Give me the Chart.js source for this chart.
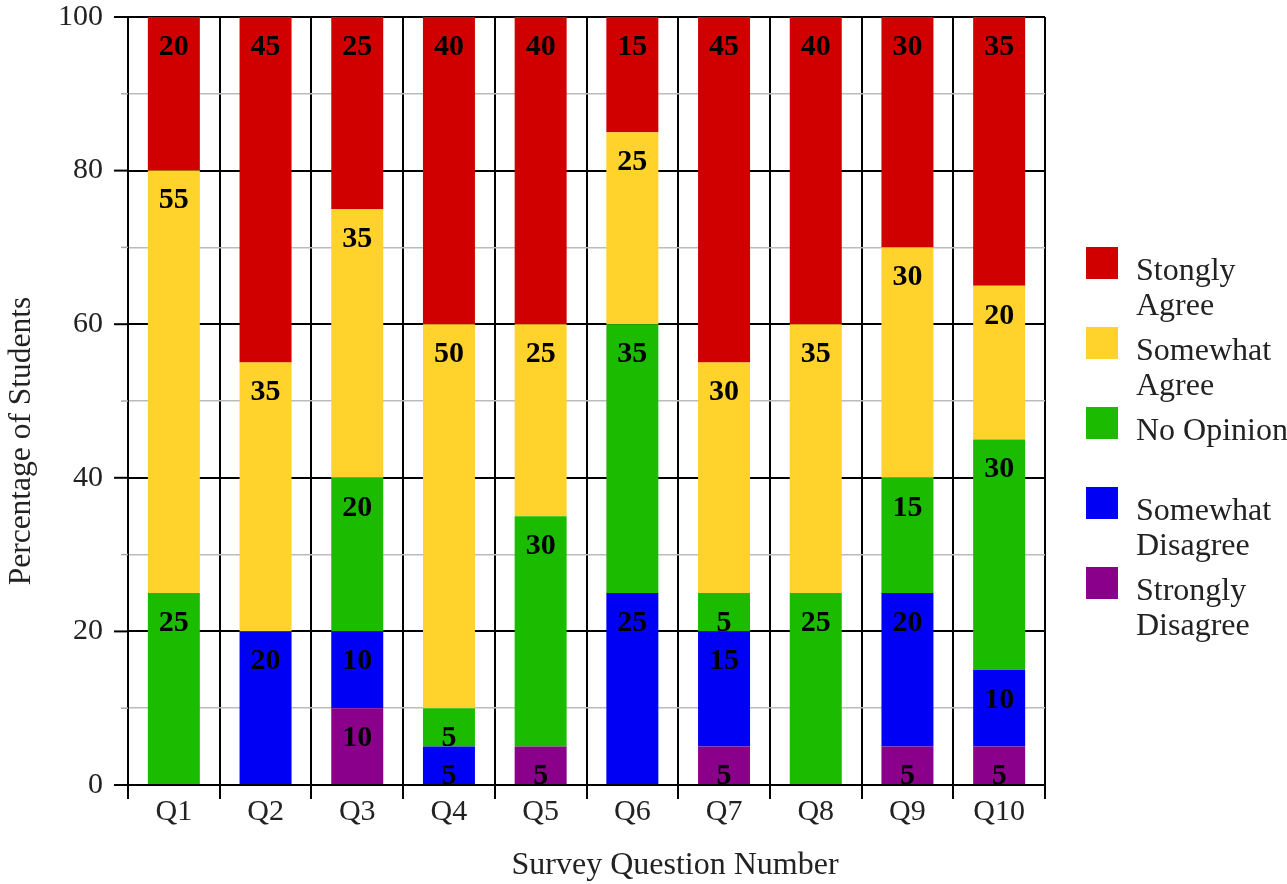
<!DOCTYPE html>
<html>
<head>
<meta charset="utf-8">
<script src="https://cdn.jsdelivr.net/npm/chart.js@4/dist/chart.umd.min.js"></script>
<style>
  html, body { margin: 0; padding: 0; background: #fff; }
  #wrap { width: 1287px; height: 884px; position: relative; }
</style>
</head>
<body>
<div id="wrap"><canvas id="c" width="1287" height="884"></canvas></div>
<script>
// Survey responses, percent of students per question
const questions = ['Q1', 'Q2', 'Q3', 'Q4', 'Q5', 'Q6', 'Q7', 'Q8', 'Q9', 'Q10'];
const stronglyDisagree = [0, 0, 10, 0, 5, 0, 5, 0, 5, 5];
const somewhatDisagree = [0, 20, 10, 5, 0, 25, 15, 0, 20, 10];
const noOpinion        = [25, 0, 20, 5, 30, 35, 5, 25, 15, 30];
const somewhatAgree    = [55, 35, 35, 50, 25, 25, 30, 35, 30, 20];
const stonglyAgree     = [20, 45, 25, 40, 40, 15, 45, 40, 30, 35];
const yTicks = [0, 20, 40, 60, 80, 100];

const seriesNames = ['Strongly Disagree', 'Somewhat Disagree', 'No Opinion', 'Somewhat Agree', 'Stongly Agree'];
const seriesColors = ['#8a008a', '#0000f5', '#1bbb00', '#ffd22c', '#d00000'];
const seriesValues = [stronglyDisagree, somewhatDisagree, noOpinion, somewhatAgree, stonglyAgree];

const xTitle = 'Survey Question Number';
const yTitle = 'Percentage of Students';

const FONT = '"Liberation Serif", "Times New Roman", serif';

// value labels near the top of every segment
const segmentLabels = {
  id: 'segmentLabels',
  afterDatasetsDraw(chart) {
    const ctx = chart.ctx;
    ctx.save();
    ctx.font = 'bold 30px ' + FONT;
    ctx.fillStyle = '#000';
    ctx.textAlign = 'center';
    ctx.textBaseline = 'middle';
    chart.data.datasets.forEach((ds, di) => {
      const meta = chart.getDatasetMeta(di);
      meta.data.forEach((bar, i) => {
        const v = ds.data[i];
        if (!v) return;
        ctx.fillText(String(v), bar.x, bar.y + 30);
      });
    });
    ctx.restore();
  }
};

// y tick marks: long for labelled values, short for the in-between ones
const yTickMarks = {
  id: 'yTickMarks',
  afterDraw(chart) {
    const ctx = chart.ctx;
    const y = chart.scales.y;
    const left = chart.chartArea.left;
    ctx.save();
    y.ticks.forEach(t => {
      const py = y.getPixelForValue(t.value);
      const major = t.value % 20 === 0;
      ctx.strokeStyle = major ? '#000' : '#aaa';
      ctx.lineWidth = major ? 2 : 1.5;
      ctx.beginPath();
      ctx.moveTo(left - (major ? 14 : 7), py);
      ctx.lineTo(left, py);
      ctx.stroke();
    });
    ctx.restore();
  }
};

// axis titles, placed against the page rather than the plot box
const axisTitles = {
  id: 'axisTitles',
  afterDraw(chart) {
    const ctx = chart.ctx;
    ctx.save();
    ctx.fillStyle = '#222';
    ctx.textAlign = 'center';
    ctx.textBaseline = 'middle';
    ctx.font = '32px ' + FONT;
    ctx.fillText(xTitle, 675, 866);
    ctx.translate(22, 441);
    ctx.rotate(-Math.PI / 2);
    ctx.font = '31.5px ' + FONT;
    ctx.fillText(yTitle, 0, 0);
    ctx.restore();
  }
};

// legend at the right, top series first, names wrapped onto two lines
const sideLegend = {
  id: 'sideLegend',
  afterDraw(chart) {
    const ctx = chart.ctx;
    const area = chart.chartArea;
    const boxX = area.right + 41;
    const textX = boxX + 50;
    const top0 = 247;
    const step = 80;
    const lineH = 35;
    ctx.save();
    ctx.font = '32px ' + FONT;
    ctx.textBaseline = 'middle';
    ctx.textAlign = 'left';
    const order = chart.data.datasets.map((d, i) => i).reverse();
    order.forEach((di, k) => {
      const ds = chart.data.datasets[di];
      const by = top0 + k * step;
      ctx.fillStyle = ds.backgroundColor;
      ctx.fillRect(boxX, by, 32, 32);
      let lines = [ds.label];
      if (ctx.measureText(ds.label).width > 160) lines = ds.label.split(' ');
      ctx.fillStyle = '#222';
      lines.forEach((ln, j) => ctx.fillText(ln, textX, by + 25 + j * lineH));
    });
    ctx.restore();
  }
};

new Chart(document.getElementById('c'), {
  type: 'bar',
  data: {
    labels: questions,
    datasets: seriesValues.map((vals, i) => ({
      label: seriesNames[i],
      data: vals,
      backgroundColor: seriesColors[i],
      borderWidth: 0,
      categoryPercentage: 1,
      barPercentage: 0.567
    }))
  },
  options: {
    responsive: false,
    animation: false,
    layout: { padding: { left: 0, right: 242, top: 17, bottom: 0 } },
    plugins: {
      legend: { display: false },
      tooltip: { enabled: false }
    },
    scales: {
      x: {
        stacked: true,
        offset: true,
        grid: {
          offset: true,
          color: '#000',
          lineWidth: 2,
          tickLength: 14,
          drawTicks: true
        },
        border: { color: '#000', width: 2 },
        ticks: {
          color: '#222',
          font: { family: FONT, size: 30 },
          padding: -5
        },
        afterFit(s) { s.height = 99; s.paddingLeft = 0; s.paddingRight = 0; }
      },
      y: {
        stacked: true,
        min: 0,
        max: 100,
        ticks: {
          stepSize: 10,
          color: '#222',
          font: { family: FONT, size: 30 },
          padding: 25,
          callback: (v) => (yTicks.includes(v) ? String(v) : '')
        },
        grid: {
          drawTicks: false,
          color: (c) => (c.tick && c.tick.value % 20 === 0 ? '#000' : '#bbb'),
          lineWidth: (c) => (c.tick && c.tick.value % 20 === 0 ? 2 : 1.5)
        },
        border: { color: '#000', width: 2 },
        afterFit(s) { s.width = 128; s.paddingTop = 0; s.paddingBottom = 0; }
      }
    }
  },
  plugins: [segmentLabels, yTickMarks, axisTitles, sideLegend]
});
</script>
</body>
</html>
